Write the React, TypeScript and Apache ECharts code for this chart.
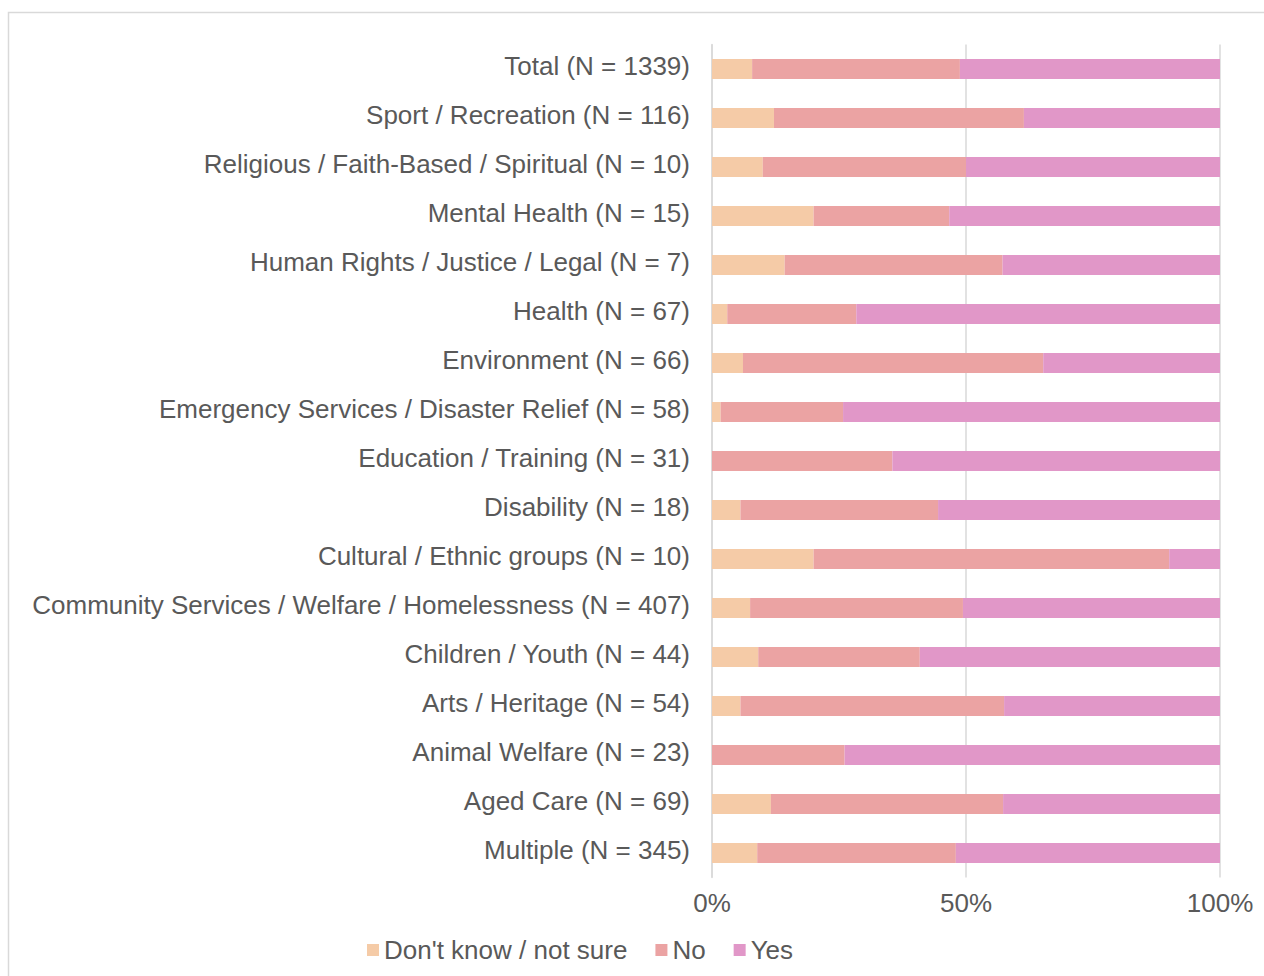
import React, { useEffect, useRef } from "react";
import * as echarts from "echarts";

const categories = [
  "Total (N = 1339)",
  "Sport / Recreation (N = 116)",
  "Religious / Faith-Based / Spiritual (N = 10)",
  "Mental Health (N = 15)",
  "Human Rights / Justice / Legal (N = 7)",
  "Health (N = 67)",
  "Environment (N = 66)",
  "Emergency Services / Disaster Relief (N = 58)",
  "Education / Training (N = 31)",
  "Disability (N = 18)",
  "Cultural / Ethnic groups (N = 10)",
  "Community Services / Welfare / Homelessness (N = 407)",
  "Children / Youth (N = 44)",
  "Arts / Heritage (N = 54)",
  "Animal Welfare (N = 23)",
  "Aged Care (N = 69)",
  "Multiple (N = 345)",
];

const dontKnow = [7.9, 12.2, 10.0, 20.0, 14.3, 3.0, 6.1, 1.7, 0, 5.6, 20.0, 7.5, 9.1, 5.6, 0, 11.6, 8.9];
const no = [40.9, 49.2, 40.0, 26.7, 42.9, 25.4, 59.1, 24.1, 35.5, 38.9, 70.0, 41.9, 31.8, 51.9, 26.1, 45.7, 39.1];
const yes = [51.2, 38.6, 50.0, 53.3, 42.8, 71.6, 34.8, 74.2, 64.5, 55.5, 10.0, 50.6, 59.1, 42.5, 73.9, 42.7, 52.0];

const xTicks = [0, 50, 100];

const FONT = "'Liberation Sans', Arial, Helvetica, sans-serif";
const TEXT = "#595959";

export default function App() {
  const ref = useRef<HTMLDivElement>(null);
  useEffect(() => {
    if (!ref.current) return;
    const chart = echarts.init(ref.current, undefined, { renderer: "svg" });
    const mk = (name: string, data: number[], color: string) => ({
      name,
      type: "bar",
      stack: "total",
      barWidth: 20,
      data,
      itemStyle: { color },
      emphasis: { disabled: true },
    });
    chart.setOption({
      animation: false,
      textStyle: { fontFamily: FONT },
      graphic: [
        {
          type: "rect",
          shape: { x: 8.5, y: 12.5, width: 1300, height: 1000 },
          style: { fill: "none", stroke: "#d9d9d9", lineWidth: 1.5 },
          silent: true,
        },
      ],
      grid: { left: 712, right: 44, top: 44.5, bottom: 98.5, containLabel: false },
      legend: {
        left: 362,
        top: 932,
        itemWidth: 12,
        itemHeight: 12,
        itemGap: 28,
        icon: "rect",
        textStyle: { fontSize: 26, color: TEXT, fontFamily: FONT },
        data: ["Don't know / not sure", "No", "Yes"],
      },
      xAxis: {
        type: "value",
        min: 0,
        max: 100,
        interval: 50,
        axisLine: { show: false },
        axisTick: { show: false },
        splitLine: { show: true, lineStyle: { color: "#d9d9d9", width: 1.5 } },
        axisLabel: {
          fontSize: 26,
          color: TEXT,
          fontFamily: FONT,
          margin: 12,
          formatter: (v: number) => (xTicks.includes(v) ? v + "%" : ""),
        },
      },
      yAxis: {
        type: "category",
        inverse: true,
        data: categories,
        axisLine: { show: true, lineStyle: { color: "#d9d9d9", width: 1.5 } },
        axisTick: { show: false },
        axisLabel: {
          fontSize: 26,
          color: TEXT,
          fontFamily: FONT,
          margin: 22,
          verticalAlign: "bottom",
          lineHeight: 6,
        },
      },
      series: [
        mk("Don't know / not sure", dontKnow, "#F5CBA7"),
        mk("No", no, "#EBA3A3"),
        mk("Yes", yes, "#E197C8"),
      ],
    });
    return () => chart.dispose();
  }, []);
  return (
    <div
      ref={ref}
      style={{ position: "absolute", left: 0, top: 0, width: 1264, height: 976, background: "#fff" }}
    />
  );
}
